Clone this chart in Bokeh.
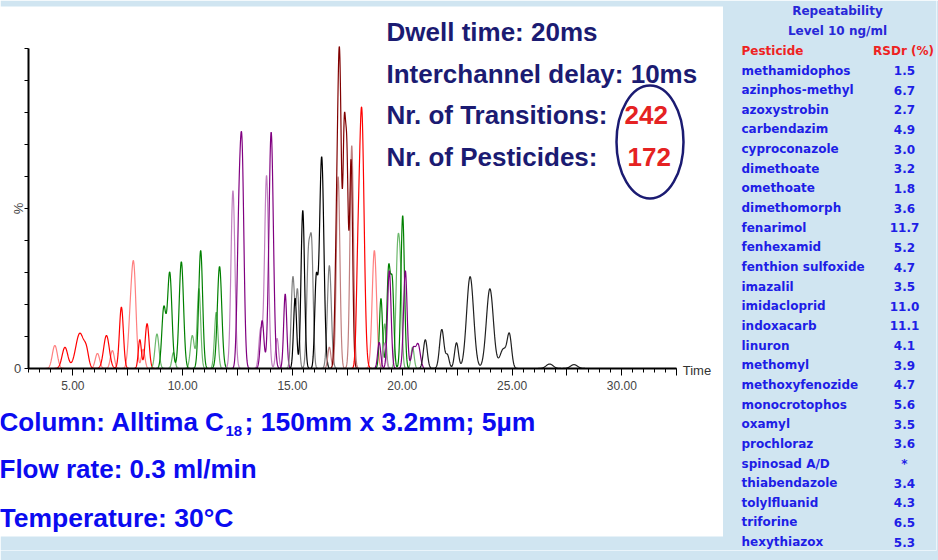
import numpy as np
from bokeh.plotting import figure
from bokeh.models import Range1d, FixedTicker, LinearAxis
from bokeh.core.properties import value
from bokeh.embed import file_html
from bokeh.resources import INLINE

# ---------------- data ----------------
# chromatogram peaks per trace: (retention time [min], height [%], sigma [min])
PK_PINK_A = [(4.18, 7.2, .115), (6.12, 4.7, .10), (6.80, 5.6, .09), (7.62, 14.0, .10), (7.78, 29.0, .10), (8.20, 6.0, .08)]
PK_RED_A = [(4.64, 6.6, .13), (5.32, 11.0, .19), (5.62, 4.0, .10), (6.53, 10.3, .13), (7.21, 19.2, .09),
            (8.05, 9.0, .07), (8.38, 14.0, .09)]
PK_LTGREEN_A = [(8.83, 10.8, .09), (9.58, 5.0, .07), (10.44, 10.3, .09), (10.74, 25.0, .08), (11.53, 17.6, .08)]
PK_GREEN_A = [(9.14, 18.7, .09), (9.41, 30.0, .10), (9.94, 33.4, .10), (10.82, 36.9, .09), (11.68, 31.9, .10)]
PK_LTPURPLE_A = [(12.29, 55.6, .09), (13.55, 12.0, .08), (13.82, 60.3, .09), (14.30, 9.4, .07)]
PK_PURPLE_A = [(12.55, 36.0, .08), (12.70, 66.0, .09), (13.62, 15.0, .08), (14.03, 73.9, .10), (14.67, 23.3, .07)]
PK_GRAY_A = [(15.02, 28.5, .08), (15.23, 24.0, .07), (15.73, 35.0, .08), (15.88, 34.0, .07), (16.68, 32.2, .09)]
PK_BLACK_A = [(15.12, 22.0, .07), (15.47, 49.4, .08), (16.08, 26.5, .07), (16.33, 66.2, .10)]
PK_ROSY = [(16.68, 6.7, .07), (17.08, 60.0, .08), (17.70, 69.7, .08)]
PK_DKRED = [(16.99, 23.4, .07), (17.14, 98.0, .09), (17.36, 66.0, .06), (17.48, 60.0, .06), (17.67, 65.0, .07)]
PK_PINK_B = [(18.73, 36.9, .10)]
PK_RED_B = [(17.97, 19.7, .07), (18.15, 81.0, .11)]
PK_LTGREEN_B = [(19.20, 14.0, .07), (19.79, 36.0, .08), (19.92, 24.0, .07), (20.47, 6.7, .07)]
PK_GREEN_B = [(19.03, 21.9, .07), (19.38, 31.2, .08), (19.55, 25.0, .07), (20.02, 47.8, .08)]
PK_LTPURPLE_B = [(19.20, 8.0, .07)]
PK_PURPLE_B = [(18.95, 8.2, .07), (19.41, 30.6, .08), (20.14, 30.6, .08), (20.50, 6.0, .09), (20.72, 7.5, .10)]
PK_BLACK_B = [(21.05, 9.0, .09), (21.80, 12.2, .10), (22.06, 4.0, .08), (22.47, 8.0, .09), (23.09, 28.7, .16),
              (23.99, 24.9, .16), (24.60, 6.0, .15), (24.88, 10.0, .10), (26.71, 1.4, .16), (27.82, 1.2, .16)]

# trace: (peaks, colour, start time, end time)
TRACES = [
    (PK_PINK_A, "#ff8080", 3.5, 9.0), (PK_RED_A, "#ff0000", 2.98, 9.0),
    (PK_LTGREEN_A, "#6cb86c", 8.4, 12.2), (PK_GREEN_A, "#008000", 7.9, 12.3),
    (PK_LTPURPLE_A, "#c080c0", 11.8, 14.8), (PK_PURPLE_A, "#800080", 11.8, 15.0),
    (PK_GRAY_A, "#808080", 14.5, 17.2), (PK_BLACK_A, "#000000", 14.5, 17.0),
    (PK_ROSY, "#c08080", 16.3, 18.3), (PK_DKRED, "#800000", 16.3, 18.3),
    (PK_PINK_B, "#ff8080", 17.8, 19.3), (PK_RED_B, "#ff0000", 17.2, 19.2),
    (PK_LTGREEN_B, "#6cb86c", 18.5, 21.0), (PK_GREEN_B, "#008000", 18.5, 21.0),
    (PK_LTPURPLE_B, "#c080c0", 18.8, 19.8), (PK_PURPLE_B, "#800080", 18.6, 21.0),
    (PK_BLACK_B, "#202020", 20.3, 30.9),
]

X_MAJOR = [5.0, 7.5, 10.0, 12.5, 15.0, 17.5, 20.0, 22.5, 25.0, 27.5, 30.0, 32.5]
X_LABEL_AT = [5.0, 10.0, 15.0, 20.0, 25.0, 30.0]
X_LABEL_TEXT = ["5.00", "10.00", "15.00", "20.00", "25.00", "30.00"]
Y_MAJOR = [0, 10, 20, 30, 40, 50, 60, 70, 80, 90, 100]

PESTICIDES = ["methamidophos", "azinphos-methyl", "azoxystrobin", "carbendazim", "cyproconazole",
              "dimethoate", "omethoate", "dimethomorph", "fenarimol", "fenhexamid", "fenthion sulfoxide",
              "imazalil", "imidacloprid", "indoxacarb", "linuron", "methomyl", "methoxyfenozide",
              "monocrotophos", "oxamyl", "prochloraz", "spinosad A/D", "thiabendazole", "tolylfluanid",
              "triforine", "hexythiazox"]
RSDR = ["1.5", "6.7", "2.7", "4.9", "3.0", "3.2", "1.8", "3.6", "11.7", "5.2", "4.7", "3.5", "11.0",
        "11.1", "4.1", "3.9", "4.7", "5.6", "3.5", "3.6", "*", "3.4", "4.3", "6.5", "5.3"]

# ---------------- styles / layout ----------------
BG = "#d0e5f1"
NAVY = "#1b1b72"
RED = "#e52222"
BLUE = "#0b0bf0"
TBLUE = "#1e1ee6"

W, H = 938, 560
FR_R, FR_B = 936, 550            # frame right / bottom (page px)
X_AX, Y_ZERO = 28, 368           # page position of y axis and of 0 %
T0, PXMIN, PXPCT = 2.98, 21.96, 3.2

p = figure(width=W, height=H,
           x_range=Range1d(T0 - X_AX / PXMIN, T0 + (FR_R - X_AX) / PXMIN),
           y_range=Range1d(-(FR_B - Y_ZERO) / PXPCT, Y_ZERO / PXPCT),
           output_backend="svg", toolbar_location=None, x_axis_type=None, y_axis_type=None,
           min_border_left=0, min_border_right=W - FR_R, min_border_top=0, min_border_bottom=H - FR_B)
p.background_fill_color = "white"
p.border_fill_color = BG
p.outline_line_color = None
p.extra_x_ranges = {"px": Range1d(0, FR_R)}
p.extra_y_ranges = {"py": Range1d(FR_B, 0)}

# background blocks (page coordinates)
p.quad(left=[722.5, 0, 0], right=[FR_R, 722.5, 722.5], top=[0, 536, 0], bottom=[FR_B, FR_B, 6],
       x_range_name="px", y_range_name="py", fill_color=BG, line_color=None)

for peaks, color, start, end in TRACES:
    t = np.arange(start, end, 0.01)
    y = np.zeros_like(t)
    for rt, h, s in peaks:
        y += h * np.exp(-0.5 * ((t - rt) / s) ** 2)
    p.line(t, y, line_color=color, line_width=1.2)

xaxis = LinearAxis(ticker=FixedTicker(ticks=X_MAJOR, minor_ticks=list(np.arange(3.0, 32.51, 0.5))),
                   bounds=(T0, 32.5), fixed_location=0)
xaxis.major_label_overrides = {v: "" for v in X_MAJOR}
xaxis.major_label_text_font_size = "0px"
xaxis.major_label_text_color = None
xaxis.major_label_standoff = 0
xaxis.axis_line_width = 2
xaxis.major_tick_out = 7
xaxis.major_tick_in = 0
xaxis.minor_tick_out = 4
xaxis.minor_tick_in = 0
p.add_layout(xaxis, "below")

yaxis = LinearAxis(ticker=FixedTicker(ticks=Y_MAJOR), bounds=(0, 100), fixed_location=T0)
yaxis.major_label_overrides = {v: "" for v in Y_MAJOR}
yaxis.major_label_text_font_size = "0px"
yaxis.major_label_text_color = None
yaxis.major_label_standoff = 0
yaxis.axis_line_width = 2
yaxis.major_tick_out = 0
yaxis.major_tick_in = 4
yaxis.minor_tick_line_color = None
p.add_layout(yaxis, "right")

# axis texts (data positions)
p.text(x=X_LABEL_AT, y=[0] * len(X_LABEL_AT), text=X_LABEL_TEXT, y_offset=17,
       text_font=value("Liberation Sans"), text_font_size="12px", text_color="#444444",
       text_align="center", text_baseline="middle")
p.text(x=[T0], y=[0], text=["0"], x_offset=-11, text_font=value("Liberation Sans"),
       text_font_size="13px", text_color="#444444", text_align="center", text_baseline="middle")
p.text(x=[T0], y=[50], text=["%"], x_offset=-10, angle=np.pi / 2, text_font=value("Liberation Sans"),
       text_font_size="13px", text_color="#444444", text_align="center", text_baseline="middle")
p.text(x=[32.5], y=[0], text=["Time"], x_offset=6, y_offset=2, text_font=value("Liberation Sans"),
       text_font_size="13px", text_color="#333333", text_align="left", text_baseline="middle")


def txt(x, y, s, size, color, font="Liberation Sans", align="left"):
    p.text(x=[x], y=[y], text=[s], x_range_name="px", y_range_name="py",
           text_font=value(font), text_font_style="bold", text_font_size=size, text_color=color,
           text_align=align, text_baseline="middle")


txt(386, 31, "Dwell time: 20ms", "26px", NAVY)
txt(386, 73, "Interchannel delay: 10ms", "26px", NAVY)
txt(386, 114, "Nr. of Transitions:", "26px", NAVY)
txt(386, 156, "Nr. of Pesticides:", "26px", NAVY)
txt(624, 114, "242", "26px", RED)
txt(627, 156, "172", "26px", RED)
p.ellipse(x=[649.5], y=[141.5], width=[67], height=[113], x_range_name="px", y_range_name="py",
          fill_color=None, line_color=NAVY, line_width=2.5)

txt(-1, 421, "Column: Alltima C", "26px", BLUE)
txt(225, 430, "18", "15px", BLUE)
txt(244, 421, "; 150mm x 3.2mm; 5µm", "26.5px", BLUE)
txt(-1, 468, "Flow rate: 0.3 ml/min", "26px", BLUE)
txt(-1, 517, "Temperature: 30°C", "26.5px", BLUE)

# ---------------- table ----------------
row_y = 70 + 19.65 * np.arange(len(PESTICIDES))
txt(837, 10.5, "Repeatability", "12px", "#2828d8", font="DejaVu Sans", align="center")
txt(837, 30, "Level 10 ng/ml", "12px", "#2828d8", font="DejaVu Sans", align="center")
txt(741, 50, "Pesticide", "12px", "#ee2222", font="DejaVu Sans")
txt(903, 50, "RSDr (%)", "12px", "#ee2222", font="DejaVu Sans", align="center")
common = dict(x_range_name="px", y_range_name="py", text_font=value("DejaVu Sans"), text_font_style="bold",
              text_font_size="12px", text_baseline="middle", text_color=TBLUE)
p.text(x=[741] * len(PESTICIDES), y=row_y, text=PESTICIDES, text_align="left", **common)
p.text(x=[904] * len(RSDR), y=row_y, text=RSDR, text_align="center", **common)

open("out.html", "w").write(file_html(p, INLINE))
